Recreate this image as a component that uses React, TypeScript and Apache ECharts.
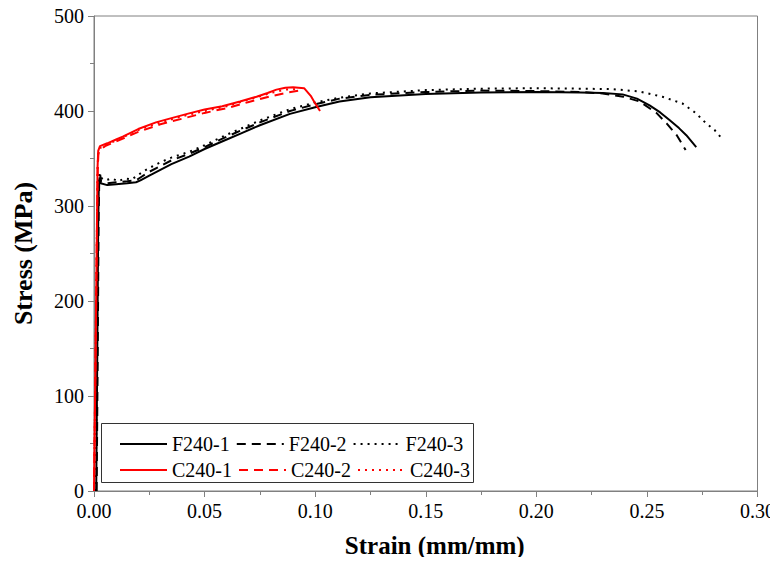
import React, { useEffect, useRef } from "react";
import * as echarts from "echarts";

const seriesNames = ["F240-1", "F240-2", "F240-3", "C240-1", "C240-2", "C240-3"];

const f240_1: [number, number][] = [
  [0.001, 0], [0.0015, 150], [0.0019, 280], [0.0022, 326], [0.0026, 330], [0.003, 324],
  [0.006, 322], [0.01, 323], [0.015, 324], [0.019, 325], [0.021, 327], [0.025, 332],
  [0.03, 338], [0.035, 344], [0.043, 352], [0.05, 360], [0.06, 370], [0.066, 376],
  [0.075, 385], [0.0886, 397], [0.1, 404], [0.111, 410], [0.125, 414.5], [0.15, 418],
  [0.175, 419.5], [0.2, 420], [0.22, 419.5], [0.23, 419], [0.239, 417.5], [0.2455, 413],
  [0.2512, 406], [0.256, 398.5], [0.2602, 390.5], [0.2645, 382], [0.2678, 374.5], [0.2723, 362]
];

const f240_2: [number, number][] = [
  [0.0012, 0], [0.0017, 150], [0.0021, 290], [0.0024, 330], [0.0028, 333], [0.0032, 326],
  [0.006, 324], [0.01, 325], [0.015, 326], [0.019, 327], [0.021, 330], [0.025, 336],
  [0.03, 342], [0.035, 348], [0.043, 355], [0.05, 362], [0.06, 373], [0.066, 379],
  [0.075, 388], [0.0886, 400], [0.1, 407], [0.111, 413], [0.125, 417], [0.15, 420],
  [0.175, 421.5], [0.2, 421], [0.22, 420], [0.23, 418.5], [0.2394, 415], [0.2467, 410],
  [0.2543, 398], [0.2589, 387], [0.2635, 374.5], [0.2675, 359]
];

const f240_3: [number, number][] = [
  [0.0008, 0], [0.0013, 150], [0.0017, 290], [0.002, 330], [0.0024, 334], [0.003, 330],
  [0.005, 327], [0.008, 329], [0.011, 326], [0.014, 329], [0.017, 328], [0.019, 331],
  [0.022, 336], [0.025, 340], [0.03, 346], [0.035, 351], [0.043, 357], [0.05, 364],
  [0.06, 375], [0.066, 381], [0.075, 390], [0.0886, 402], [0.1, 409], [0.111, 414],
  [0.125, 418.5], [0.15, 422], [0.175, 423.5], [0.2, 424], [0.22, 423.5], [0.2346, 423],
  [0.2467, 420.5], [0.257, 415], [0.266, 408], [0.272, 398], [0.2768, 387], [0.2806, 380],
  [0.2837, 371.5]
];

const c240_1: [number, number][] = [
  [0, 0], [0.0006, 120], [0.0012, 250], [0.0016, 340], [0.0019, 358], [0.0027, 363],
  [0.006, 366], [0.01, 370], [0.013, 373], [0.02, 381], [0.028, 388], [0.035, 392.5],
  [0.043, 397.5], [0.05, 401.5], [0.058, 405], [0.066, 410], [0.0735, 415], [0.0785, 419],
  [0.0825, 422.5], [0.0865, 424.5], [0.09, 425], [0.095, 424], [0.098, 416], [0.1, 408],
  [0.1022, 400]
];

const c240_2: [number, number][] = [
  [0, 0], [0.0006, 120], [0.0012, 250], [0.0017, 340], [0.002, 355], [0.0028, 359],
  [0.005, 363], [0.01, 368], [0.02, 378], [0.03, 386], [0.04, 392], [0.05, 398],
  [0.06, 403], [0.07, 409.5], [0.08, 415.5], [0.0875, 419.5], [0.093, 421.5]
];

const c240_3: [number, number][] = [
  [0, 0], [0.0006, 120], [0.0012, 250], [0.0016, 338], [0.0019, 356], [0.0027, 361],
  [0.006, 365], [0.01, 369], [0.02, 380], [0.03, 388], [0.04, 394.5], [0.05, 400],
  [0.06, 405], [0.07, 412], [0.08, 419], [0.0865, 422.5], [0.091, 423]
];

const xTicks = [0, 0.05, 0.1, 0.15, 0.2, 0.25, 0.3];
const yTicks = [0, 100, 200, 300, 400, 500];

const FONT = "Liberation Serif";

export default function App() {
  const ref = useRef<HTMLDivElement>(null);

  useEffect(() => {
    if (!ref.current) return;
    const chart = echarts.init(ref.current, undefined, { renderer: "svg" });

    const dataSets = [f240_1, f240_2, f240_3, c240_1, c240_2, c240_3];
    const colors = ["#000000", "#000000", "#000000", "#ff0000", "#ff0000", "#ff0000"];
    const types: any[] = ["solid", [9, 6], [2, 5], "solid", [9, 6], [2, 5]];
    const zs = [2, 2, 2, 4, 4, 3];

    const series = dataSets.map((d, i) => ({
      name: seriesNames[i],
      type: "line",
      data: d,
      symbol: "none",
      showSymbol: false,
      smooth: false,
      z: zs[i],
      lineStyle: { color: colors[i], width: 2, type: types[i] },
      itemStyle: { color: colors[i] },
    }));

    const legendCommon = {
      orient: "horizontal",
      left: 119,
      itemWidth: 47,
      itemHeight: 14,
      itemGap: 6,
      itemStyle: { opacity: 0 },
      textStyle: { fontFamily: FONT, fontSize: 20, color: "#000" },
      padding: 0,
    };

    chart.setOption({
      animation: false,
      backgroundColor: "#ffffff",
      textStyle: { fontFamily: FONT },
      grid: {
        left: 94,
        right: 20,
        top: 16,
        bottom: 74,
        show: true,
        borderColor: "#808080",
        borderWidth: 1,
        containLabel: false,
      },
      legend: [
        { ...legendCommon, top: 434, data: seriesNames.slice(0, 3) },
        { ...legendCommon, top: 460, data: seriesNames.slice(3, 6) },
      ],
      graphic: [
        {
          type: "rect",
          shape: { x: 101.5, y: 423.5, width: 372, height: 59 },
          style: { fill: "none", stroke: "#333333", lineWidth: 1 },
          z: 10,
        },
      ],
      xAxis: {
        type: "value",
        min: xTicks[0],
        max: xTicks[xTicks.length - 1],
        interval: 0.05,
        name: "Strain (mm/mm)",
        nameLocation: "middle",
        nameGap: 42,
        nameTextStyle: {
          fontFamily: FONT,
          fontSize: 25,
          fontWeight: "bold",
          color: "#000",
          padding: [0, 0, 0, 18],
        },
        axisLine: { show: true, onZero: false, lineStyle: { color: "#808080", width: 1 } },
        axisTick: { show: true, inside: false, length: 6, lineStyle: { color: "#808080" } },
        minorTick: { show: true, splitNumber: 2, length: 4, lineStyle: { color: "#808080" } },
        splitLine: { show: false },
        axisLabel: {
          fontFamily: FONT,
          fontSize: 20,
          color: "#000",
          margin: 10,
          formatter: (v: number) => v.toFixed(2),
        },
      },
      yAxis: {
        type: "value",
        min: yTicks[0],
        max: yTicks[yTicks.length - 1],
        interval: 100,
        name: "Stress (MPa)",
        nameLocation: "middle",
        nameGap: 58,
        nameTextStyle: { fontFamily: FONT, fontSize: 26, fontWeight: "bold", color: "#000" },
        axisLine: { show: true, onZero: false, lineStyle: { color: "#808080", width: 1 } },
        axisTick: { show: true, inside: false, length: 6, lineStyle: { color: "#808080" } },
        minorTick: { show: true, splitNumber: 2, length: 4, lineStyle: { color: "#808080" } },
        splitLine: { show: false },
        axisLabel: { fontFamily: FONT, fontSize: 20, color: "#000", margin: 10 },
      },
      series,
    });

    return () => chart.dispose();
  }, []);

  return <div ref={ref} style={{ width: 778, height: 565, margin: -8 }} />;
}
